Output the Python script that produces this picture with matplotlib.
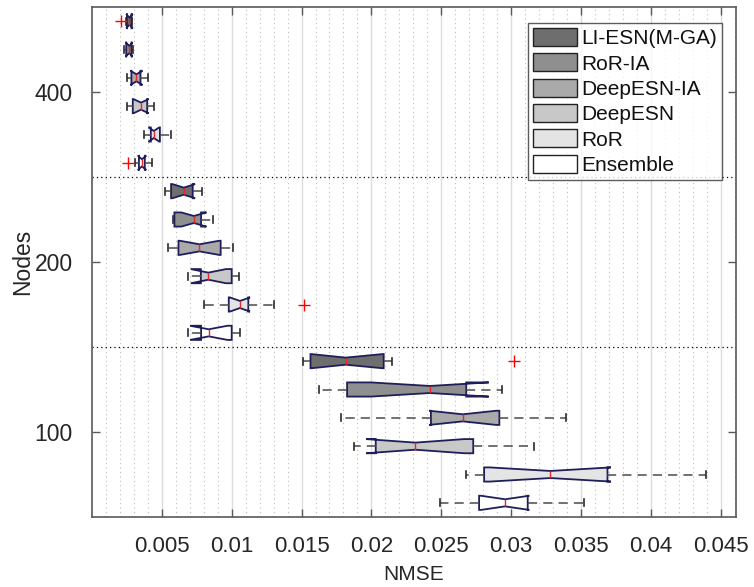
import numpy as np
import matplotlib
matplotlib.use("Agg")
import matplotlib.pyplot as plt
from matplotlib.patches import Patch

plt.rcParams['font.family'] = ['Liberation Sans', 'DejaVu Sans']
narrow = ['Liberation Sans Narrow', 'Liberation Sans', 'DejaVu Sans']

# Models (legend order) and node groups (top to bottom)
models = ["LI-ESN(M-GA)", "RoR-IA", "DeepESN-IA", "DeepESN", "RoR", "Ensemble"]
groups = ["400", "200", "100"]
fills = ["#6e6e6e", "#8f8f8f", "#aaaaaa", "#c8c8c8", "#e4e4e4", "#ffffff"]

# Box statistics of NMSE, 6 models per node group (400, 200, 100)
whislo = [0.00246, 0.00230, 0.00252, 0.00254, 0.00369, 0.00306,
          0.00524, 0.00580, 0.00543, 0.00686, 0.00804, 0.00686,
          0.01507, 0.01626, 0.01786, 0.01874, 0.02674, 0.02488]
q1 = [0.00250, 0.00245, 0.00282, 0.00292, 0.00421, 0.00336,
      0.00566, 0.00590, 0.00619, 0.00779, 0.00979, 0.00781,
      0.01564, 0.01826, 0.02426, 0.02031, 0.02807, 0.02771]
med = [0.00268, 0.00268, 0.00318, 0.00351, 0.00443, 0.00358,
       0.00657, 0.00729, 0.00769, 0.00833, 0.01059, 0.00836,
       0.01816, 0.02419, 0.02654, 0.02314, 0.03281, 0.02957]
q3 = [0.00283, 0.00283, 0.00347, 0.00395, 0.00486, 0.00378,
      0.00721, 0.00781, 0.00921, 0.01000, 0.01119, 0.01000,
      0.02088, 0.02679, 0.02916, 0.02729, 0.03690, 0.03119]
whishi = [0.00287, 0.00293, 0.00402, 0.00446, 0.00565, 0.00431,
          0.00786, 0.00865, 0.01009, 0.01054, 0.01304, 0.01059,
          0.02150, 0.02936, 0.03393, 0.03164, 0.04393, 0.03524]
cilo = [0.00245, 0.00240, 0.00275, 0.00297, 0.00405, 0.00328,
        0.00576, 0.00639, 0.00630, 0.00707, 0.00987, 0.00702,
        0.01570, 0.01998, 0.02415, 0.01964, 0.02848, 0.02784]
cihi = [0.00291, 0.00290, 0.00361, 0.00405, 0.00481, 0.00388,
        0.00738, 0.00819, 0.00910, 0.00959, 0.01131, 0.00970,
        0.02080, 0.02840, 0.02893, 0.02664, 0.03714, 0.03130]
fliers = [[0.00210], [], [], [], [], [0.00255],
          [], [], [], [], [0.01519], [],
          [0.03019], [], [], [], [], []]

xtick_vals = [0.005, 0.01, 0.015, 0.02, 0.025, 0.03, 0.035, 0.04, 0.045]
xtick_labels = ["0.005", "0.01", "0.015", "0.02", "0.025", "0.03", "0.035", "0.04", "0.045"]

n_models = len(models)
stats = []
for i in range(len(med)):
    stats.append(dict(med=med[i], q1=q1[i], q3=q3[i], whislo=whislo[i],
                      whishi=whishi[i], cilo=cilo[i], cihi=cihi[i],
                      fliers=np.array(fliers[i])))
positions = np.arange(1, len(med) + 1)

fig = plt.figure(figsize=(7.54, 5.87), dpi=100)
ax = fig.add_axes([92 / 754, 1 - 517 / 587, (736 - 92) / 754, (517 - 7) / 587])

axis_col = "#5a5a5a"
text_col = "#262626"
bp = ax.bxp(stats, positions=positions, widths=0.5, orientation="horizontal",
            patch_artist=True, shownotches=True, showfliers=True,
            boxprops=dict(edgecolor="#1e1e5a", linewidth=1.3),
            whiskerprops=dict(color="#4a4a4a", linestyle=(0, (6, 4)), linewidth=1.1),
            capprops=dict(color="#2a2a2a", linewidth=1.2),
            medianprops=dict(color="#e8262b", linewidth=1.0),
            flierprops=dict(marker="+", markeredgecolor="red", markersize=8,
                            markeredgewidth=1.0, linestyle="none"))
for i, box in enumerate(bp["boxes"]):
    box.set_facecolor(fills[i % n_models])

# group separators
for y in (6.5, 12.5):
    ax.axhline(y, color="black", linestyle=(0, (1, 2.5)), linewidth=0.9, zorder=1)

ax.set_xlim(0, 0.0461)
ax.set_ylim(18.5, 0.5)
ax.set_xticks(xtick_vals)
ax.set_xticks(np.arange(0.001, 0.0461, 0.001), minor=True)
ax.set_yticks([3.5, 9.5, 15.5])
ax.set_xticklabels(xtick_labels, family=narrow, fontsize=16, color=text_col)
ax.set_yticklabels(groups, family=narrow, fontsize=16.5, color=text_col)

ax.set_axisbelow(True)
ax.grid(which="major", axis="x", color="#dcdcdc", linewidth=1.0)
ax.grid(which="minor", axis="x", color="#bdbdbd", linestyle=(0, (1, 3)), linewidth=0.8)
ax.grid(which="both", axis="y", visible=False)

ax.tick_params(which="major", direction="in", length=6, width=1.0, color=axis_col,
               top=True, right=True)
ax.tick_params(axis="x", which="major", pad=14)
ax.tick_params(axis="y", which="major", pad=14)
ax.tick_params(which="minor", length=0, top=True, right=True)
for s in ax.spines.values():
    s.set_color(axis_col)
    s.set_linewidth(1.2)

ax.set_xlabel("NMSE", family=narrow, fontsize=15, color=text_col, va="baseline")
ax.set_ylabel("Nodes", family=narrow, fontsize=16.5, color=text_col)
ax.xaxis.set_label_coords(0.5, (517 - 580) / 510)
ax.yaxis.set_label_coords((34 - 92) / 644, 0.5)

handles = [Patch(facecolor=c, edgecolor="#222222", linewidth=1.0) for c in fills]
leg = ax.legend(handles, models, loc="upper right", bbox_to_anchor=(0.978, 0.969),
                borderaxespad=0, fontsize=15, frameon=True, fancybox=False,
                handlelength=2.1, handleheight=0.95, handletextpad=0.2,
                labelspacing=0.25, borderpad=0.25)
leg.get_frame().set_edgecolor("#333333")
leg.get_frame().set_linewidth(1.0)
for t in leg.get_texts():
    t.set_color("#111111")

fig.savefig("out.png", dpi=100)
